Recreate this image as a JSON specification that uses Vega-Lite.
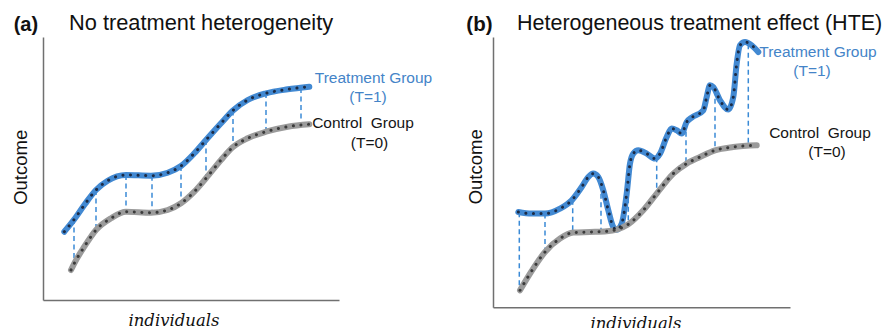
{
  "$schema": "https://vega.github.io/schema/vega-lite/v6.json",
  "background": "white",
  "padding": {"left": 11, "top": 13, "right": 0, "bottom": 0},
  "spacing": 33,
  "resolve": {"scale": {"x": "independent", "y": "independent"}},
  "config": {
    "view": {"stroke": null},
    "axis": {"ticks": false, "labels": false, "grid": false, "domainColor": "#707070", "domainWidth": 1.5, "titleColor": "#111111", "titleFontWeight": "normal"}
  },
  "datasets": {
    "curves_a": [
      {"group": "Treatment", "ind": 21.3, "out": 68.3}, {"group": "Treatment", "ind": 31.3, "out": 80.7}, {"group": "Treatment", "ind": 42, "out": 96}, {"group": "Treatment", "ind": 53, "out": 110}, {"group": "Treatment", "ind": 64.7, "out": 119.3}, {"group": "Treatment", "ind": 83, "out": 125}, {"group": "Treatment", "ind": 108, "out": 124.3}, {"group": "Treatment", "ind": 124.7, "out": 127.3}, {"group": "Treatment", "ind": 138, "out": 134}, {"group": "Treatment", "ind": 151.3, "out": 146.7}, {"group": "Treatment", "ind": 163, "out": 160}, {"group": "Treatment", "ind": 178, "out": 176.7}, {"group": "Treatment", "ind": 189.7, "out": 189.3}, {"group": "Treatment", "ind": 204.7, "out": 200}, {"group": "Treatment", "ind": 223, "out": 206.7}, {"group": "Treatment", "ind": 244.7, "out": 210.7}, {"group": "Treatment", "ind": 266.3, "out": 213.3},
      {"group": "Control", "ind": 28, "out": 30}, {"group": "Control", "ind": 31.3, "out": 36.7}, {"group": "Control", "ind": 41.3, "out": 53.3}, {"group": "Control", "ind": 53, "out": 70}, {"group": "Control", "ind": 68, "out": 81.7}, {"group": "Control", "ind": 83, "out": 88.3}, {"group": "Control", "ind": 108, "out": 87.3}, {"group": "Control", "ind": 124.7, "out": 90}, {"group": "Control", "ind": 138, "out": 96.7}, {"group": "Control", "ind": 151.3, "out": 108.3}, {"group": "Control", "ind": 163, "out": 121.7}, {"group": "Control", "ind": 178, "out": 140}, {"group": "Control", "ind": 189.7, "out": 152.7}, {"group": "Control", "ind": 204.7, "out": 161.7}, {"group": "Control", "ind": 223, "out": 168.3}, {"group": "Control", "ind": 244.7, "out": 173.3}, {"group": "Control", "ind": 266.3, "out": 175.7}
    ],
    "rules_a": [
      {"ind": 31, "out": 81, "out2": 37}, {"ind": 53, "out": 110, "out2": 70}, {"ind": 83, "out": 125, "out2": 88.5}, {"ind": 109, "out": 124.3, "out2": 87.3}, {"ind": 138, "out": 134, "out2": 97}, {"ind": 163, "out": 160, "out2": 122}, {"ind": 190, "out": 189.5, "out2": 153}, {"ind": 223, "out": 207, "out2": 168.5}, {"ind": 258, "out": 212, "out2": 174.5}
    ],
    "labels_a": [
      {"group": "Treatment", "ind": 330.5, "out": 221.7, "label": "Treatment Group"}, {"group": "Treatment", "ind": 325, "out": 203.3, "label": "(T=1)"},
      {"group": "Control", "ind": 320, "out": 176.7, "label": "Control\u00a0 Group"}, {"group": "Control", "ind": 326.5, "out": 156.7, "label": "(T=0)"}
    ],
    "tag_a": [{"ind": -29.3, "out": 269, "label": "(a)"}],
    "title_a": [{"ind": 26, "out": 270, "label": "No treatment heterogeneity"}],
    "curves_b": [
      {"group": "Treatment", "ind": 25.3, "out": 95.3}, {"group": "Treatment", "ind": 38.7, "out": 93.7}, {"group": "Treatment", "ind": 52, "out": 93.7}, {"group": "Treatment", "ind": 67, "out": 98.7}, {"group": "Treatment", "ind": 78.7, "out": 107}, {"group": "Treatment", "ind": 88.7, "out": 120.3}, {"group": "Treatment", "ind": 95.3, "out": 130.3}, {"group": "Treatment", "ind": 100.3, "out": 133.7}, {"group": "Treatment", "ind": 105.3, "out": 130.3}, {"group": "Treatment", "ind": 110.3, "out": 117}, {"group": "Treatment", "ind": 115.3, "out": 97}, {"group": "Treatment", "ind": 120.3, "out": 80.3}, {"group": "Treatment", "ind": 123.7, "out": 77.5}, {"group": "Treatment", "ind": 128.7, "out": 83.7}, {"group": "Treatment", "ind": 133.7, "out": 113.7}, {"group": "Treatment", "ind": 137, "out": 143.7}, {"group": "Treatment", "ind": 140.3, "out": 153.7}, {"group": "Treatment", "ind": 145.3, "out": 157}, {"group": "Treatment", "ind": 153.7, "out": 153.7}, {"group": "Treatment", "ind": 162, "out": 148.7}, {"group": "Treatment", "ind": 167, "out": 153.7}, {"group": "Treatment", "ind": 173.7, "out": 170.3}, {"group": "Treatment", "ind": 178.7, "out": 178.7}, {"group": "Treatment", "ind": 183.7, "out": 177}, {"group": "Treatment", "ind": 188.7, "out": 173.7}, {"group": "Treatment", "ind": 193.7, "out": 185.3}, {"group": "Treatment", "ind": 198.7, "out": 189.7}, {"group": "Treatment", "ind": 210.3, "out": 197}, {"group": "Treatment", "ind": 213.7, "out": 210.3}, {"group": "Treatment", "ind": 217, "out": 222}, {"group": "Treatment", "ind": 220.3, "out": 220.3}, {"group": "Treatment", "ind": 227, "out": 207}, {"group": "Treatment", "ind": 235.3, "out": 197.7}, {"group": "Treatment", "ind": 240.3, "out": 210.3}, {"group": "Treatment", "ind": 243.7, "out": 243.7}, {"group": "Treatment", "ind": 247, "out": 262}, {"group": "Treatment", "ind": 252, "out": 265.3}, {"group": "Treatment", "ind": 258.7, "out": 262}, {"group": "Treatment", "ind": 265.3, "out": 255.3},
      {"group": "Control", "ind": 27, "out": 17}, {"group": "Control", "ind": 37, "out": 33.7}, {"group": "Control", "ind": 52, "out": 55.3}, {"group": "Control", "ind": 67, "out": 68.7}, {"group": "Control", "ind": 80.3, "out": 74.7}, {"group": "Control", "ind": 97, "out": 75.3}, {"group": "Control", "ind": 113.7, "out": 76}, {"group": "Control", "ind": 123.7, "out": 77.7}, {"group": "Control", "ind": 135.3, "out": 83}, {"group": "Control", "ind": 150.3, "out": 97}, {"group": "Control", "ind": 163.7, "out": 113.7}, {"group": "Control", "ind": 180.3, "out": 133.7}, {"group": "Control", "ind": 193.7, "out": 143.7}, {"group": "Control", "ind": 207, "out": 150.3}, {"group": "Control", "ind": 222, "out": 157}, {"group": "Control", "ind": 240.3, "out": 160.3}, {"group": "Control", "ind": 263.7, "out": 162}
    ],
    "rules_b": [
      {"ind": 26.3, "out": 95, "out2": 17}, {"ind": 52, "out": 93.7, "out2": 55.3}, {"ind": 79.7, "out": 107.5, "out2": 74.7}, {"ind": 108, "out": 122, "out2": 76}, {"ind": 135.3, "out": 126, "out2": 83}, {"ind": 163.7, "out": 150, "out2": 113.5}, {"ind": 193, "out": 184, "out2": 143.5}, {"ind": 222, "out": 217, "out2": 157}, {"ind": 255.3, "out": 263, "out2": 161}
    ],
    "labels_b": [
      {"group": "Treatment", "ind": 325, "out": 255, "label": "Treatment Group"}, {"group": "Treatment", "ind": 319, "out": 236, "label": "(T=1)"},
      {"group": "Control", "ind": 327, "out": 174, "label": "Control\u00a0 Group"}, {"group": "Control", "ind": 334, "out": 155, "label": "(T=0)"}
    ],
    "tag_b": [{"ind": -26.7, "out": 276, "label": "(b)"}],
    "title_b": [{"ind": 24, "out": 277, "label": "Heterogeneous treatment effect (HTE)"}]
  },
  "hconcat": [
    {
      "width": 296,
      "height": 263,
      "encoding": {
        "x": {"field": "ind", "type": "quantitative", "title": "individuals", "scale": {"domain": [0, 296], "nice": false, "zero": false}, "axis": {"title": "individuals", "titleFont": "DejaVu Serif", "titleFontStyle": "italic", "titleFontSize": 16.5, "titleAlign": "center", "titleX": 130.5, "titlePadding": 12}},
        "y": {"field": "out", "type": "quantitative", "title": "Outcome", "scale": {"domain": [0, 263], "nice": false, "zero": false}, "axis": {"title": "Outcome", "titleFont": "Liberation Sans", "titleFontSize": 18.5, "titleY": 129.8, "titlePadding": 13}}
      },
      "layer": [
        {"data": {"name": "rules_a"}, "mark": {"type": "rule", "color": "#3b8ad6", "strokeWidth": 1.5, "strokeDash": [5, 3.5]}, "encoding": {"y2": {"field": "out2"}}},
        {"data": {"name": "curves_a"}, "mark": {"type": "line", "interpolate": "monotone", "strokeWidth": 6, "strokeCap": "round", "strokeJoin": "round"}, "encoding": {"color": {"field": "group", "type": "nominal", "scale": {"domain": ["Control", "Treatment"], "range": ["#9b9b9b", "#4289d2"]}, "legend": null}}},
        {"data": {"name": "curves_a"}, "mark": {"type": "line", "interpolate": "monotone", "strokeWidth": 3, "strokeCap": "round", "strokeDash": [0.1, 7.5]}, "encoding": {"stroke": {"field": "group", "type": "nominal", "scale": {"domain": ["Control", "Treatment"], "range": ["#3b3b3b", "#1c2b45"]}, "legend": null}}},
        {"data": {"name": "labels_a"}, "mark": {"type": "text", "font": "Liberation Sans", "fontSize": 15.5, "align": "center", "baseline": "middle"}, "encoding": {"text": {"field": "label"}, "fill": {"field": "group", "type": "nominal", "scale": {"domain": ["Control", "Treatment"], "range": ["#151515", "#4484c8"]}, "legend": null}}},
        {"data": {"name": "tag_a"}, "mark": {"type": "text", "font": "Liberation Sans", "fontSize": 20, "fontWeight": "bold", "align": "left", "baseline": "alphabetic", "color": "#111111"}, "encoding": {"text": {"field": "label"}}},
        {"data": {"name": "title_a"}, "mark": {"type": "text", "font": "Liberation Sans", "fontSize": 21.8, "align": "left", "baseline": "alphabetic", "color": "#111111"}, "encoding": {"text": {"field": "label"}}}
      ]
    },
    {
      "width": 297,
      "height": 270.3,
      "encoding": {
        "x": {"field": "ind", "type": "quantitative", "title": "individuals", "scale": {"domain": [0, 297], "nice": false, "zero": false}, "axis": {"title": "individuals", "titleFont": "DejaVu Serif", "titleFontStyle": "italic", "titleFontSize": 16.5, "titleAlign": "center", "titleX": 142.5, "titlePadding": 8}},
        "y": {"field": "out", "type": "quantitative", "title": "Outcome", "scale": {"domain": [0, 270.3], "nice": false, "zero": false}, "axis": {"title": "Outcome", "titleFont": "Liberation Sans", "titleFontSize": 18.5, "titleY": 129.3, "titlePadding": 7.5}}
      },
      "layer": [
        {"data": {"name": "rules_b"}, "mark": {"type": "rule", "color": "#3b8ad6", "strokeWidth": 1.5, "strokeDash": [5, 3.5]}, "encoding": {"y2": {"field": "out2"}}},
        {"data": {"name": "curves_b"}, "mark": {"type": "line", "interpolate": "monotone", "strokeWidth": 6, "strokeCap": "round", "strokeJoin": "round"}, "encoding": {"color": {"field": "group", "type": "nominal", "scale": {"domain": ["Control", "Treatment"], "range": ["#9b9b9b", "#4289d2"]}, "legend": null}}},
        {"data": {"name": "curves_b"}, "mark": {"type": "line", "interpolate": "monotone", "strokeWidth": 3, "strokeCap": "round", "strokeDash": [0.1, 7.5]}, "encoding": {"stroke": {"field": "group", "type": "nominal", "scale": {"domain": ["Control", "Treatment"], "range": ["#3b3b3b", "#1c2b45"]}, "legend": null}}},
        {"data": {"name": "labels_b"}, "mark": {"type": "text", "font": "Liberation Sans", "fontSize": 15.5, "align": "center", "baseline": "middle"}, "encoding": {"text": {"field": "label"}, "fill": {"field": "group", "type": "nominal", "scale": {"domain": ["Control", "Treatment"], "range": ["#151515", "#4484c8"]}, "legend": null}}},
        {"data": {"name": "tag_b"}, "mark": {"type": "text", "font": "Liberation Sans", "fontSize": 20.5, "fontWeight": "bold", "align": "left", "baseline": "alphabetic", "color": "#111111"}, "encoding": {"text": {"field": "label"}}},
        {"data": {"name": "title_b"}, "mark": {"type": "text", "font": "Liberation Sans", "fontSize": 21.5, "align": "left", "baseline": "alphabetic", "color": "#111111"}, "encoding": {"text": {"field": "label"}}}
      ]
    }
  ]
}
